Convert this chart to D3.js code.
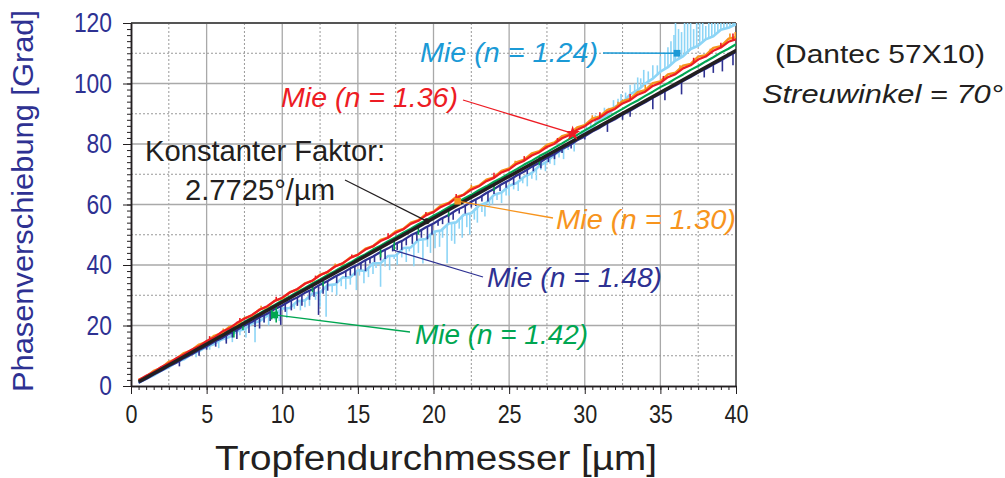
<!DOCTYPE html>
<html>
<head>
<meta charset="utf-8">
<script src="https://cdn.jsdelivr.net/npm/d3@7"></script>
<style>
  body { margin: 0; background: #fff; }
  text { font-family: "Liberation Sans", Arial, sans-serif; }
</style>
</head>
<body>
<svg id="chart"></svg>
<script>
// sampling grid of the Mie curves (droplet diameter, µm)
const diam = d3.range(1, 81).map(i => i * 0.5);

// constant factor 2.7725°/µm
const factorX = [0.6, 40];
const factorY = [1.66, 110.9];

// Mie (n = 1.24)
const mie124 = [1.0, 2.4, 3.5, 5.1, 6.2, 7.9, 8.8, 10.6, 11.5, 13.0, 13.9, 15.4, 16.2, 18.1, 18.8, 20.7, 21.4, 23.2, 23.9, 25.6,
  25.8, 28.0, 28.3, 30.6, 30.9, 33.3, 33.6, 35.9, 35.9, 38.3, 38.0, 40.6, 40.6, 43.0, 43.1, 45.6, 45.8, 48.3, 48.6, 51.0,
  51.4, 53.7, 54.1, 56.6, 57.1, 59.6, 60.6, 63.2, 64.0, 66.2, 67.1, 69.2, 70.4, 72.8, 74.2, 76.5, 78.0, 79.9, 81.6, 83.9,
  85.4, 88.3, 89.5, 92.3, 93.6, 96.4, 97.8, 100.0, 101.6, 103.9, 105.4, 107.6, 109.0, 111.4, 112.5, 114.6, 115.6, 117.8, 118.4, 119.6];
const mie124SpikeX = [4.3, 5.8, 6.7, 7.6, 8.2, 9.1, 9.8, 10.3, 11.2, 11.8, 12.5, 12.9, 13.6, 14.2, 14.9, 15.4, 16.0, 16.5, 17.1, 17.6,
  18.2, 18.7, 19.3, 19.8, 20.4, 20.9, 21.4, 21.9, 22.4, 22.9, 23.4, 23.9, 24.5, 25.0, 25.6, 26.2, 26.8, 27.4, 28.0, 28.6, 29.3,
  29.8, 30.4, 31.0, 31.6, 32.2, 32.7, 33.3, 33.7, 34.2, 34.8, 35.3, 35.7, 36.0, 36.4, 36.8, 37.2, 37.6, 38.0, 38.4, 38.8, 39.2, 39.6, 39.9,
  5.2, 6.3, 7.2, 8.8, 9.5, 10.8, 11.5, 12.2, 13.3, 13.9, 14.5, 15.1, 15.7, 16.2, 16.8, 17.4, 17.9, 18.4, 19.0, 19.6,
  20.1, 20.6, 21.2, 21.7, 22.2, 22.7, 23.2, 23.7, 24.2, 24.8, 25.3, 25.9, 26.5, 27.1, 27.7, 28.3, 28.9,
  30.1, 30.7, 31.3, 31.9, 32.4, 33.0, 33.5, 33.9, 34.5, 35.0, 35.5, 35.9, 36.2, 36.6, 37.0, 37.4, 37.8, 38.2, 38.6, 39.0, 39.4, 39.8];
const mie124SpikeY = [9.5, 12.5, 14.5, 16.0, 14.5, 20.0, 21.5, 22.5, 25.0, 26.5, 26.2, 22.9, 30.0, 32.0, 31.7, 34.0, 37.0, 32.8, 38.3, 40.0,
  41.0, 39.6, 40.5, 44.0, 46.0, 40.6, 47.0, 49.0, 50.0, 54.0, 56.0, 60.0, 60.5, 63.0, 64.5, 66.0, 68.0, 71.0, 73.0, 75.0, 77.5,
  84.5, 87.0, 90.0, 92.0, 95.0, 97.0, 100.0, 101.7, 104.0, 106.0, 110.0, 114.0, 122, 117.0, 122, 118.0, 122, 119.0, 122, 122, 122, 122, 122,
  12.0, 14.8, 16.8, 21.0, 22.0, 25.5, 26.0, 28.5, 31.0, 33.0, 33.5, 36.5, 36.0, 39.0, 39.5, 42.0, 42.5, 44.5, 44.0, 46.0,
  45.5, 49.0, 48.0, 52.0, 52.5, 55.0, 57.5, 59.5, 61.5, 63.0, 65.0, 67.0, 68.5, 71.5, 73.5, 75.5, 78.0,
  87.0, 89.5, 92.0, 94.5, 96.5, 99.5, 102.0, 104.5, 106.0, 109.0, 112.0, 116.0, 118.0, 122, 120.0, 122, 122, 122, 122, 122, 122, 122];

// Mie (n = 1.48)
const mie148 = [1.1, 2.3, 3.8, 5.0, 6.5, 7.7, 9.2, 10.4, 11.9, 13.1, 14.6, 15.8, 17.3, 18.5, 20.0, 21.2, 22.7, 23.9, 25.4, 26.6,
  28.1, 29.3, 30.8, 32.0, 33.5, 34.7, 36.2, 37.4, 38.9, 40.1, 41.6, 42.8, 44.3, 45.5, 47.0, 48.2, 49.8, 51.0, 52.5, 53.7,
  55.3, 56.5, 58.1, 59.3, 60.9, 62.2, 63.8, 65.1, 66.7, 68.0, 69.6, 70.9, 72.5, 73.8, 75.4, 76.7, 78.3, 79.6, 81.2, 82.5,
  84.1, 85.4, 86.9, 88.2, 89.7, 91.0, 92.5, 93.8, 95.3, 96.6, 98.0, 99.3, 100.8, 102.1, 103.6, 104.9, 106.3, 107.6, 109.1, 110.4];
const mie148SpikeX = [3.2, 4.5, 5.6, 6.3, 7.0, 7.8, 8.5, 9.2, 9.9, 10.6, 11.3, 11.8, 12.4, 13.0, 13.6, 14.2, 14.8, 15.5, 16.1, 16.8,
  17.3, 17.9, 18.6, 19.2, 19.9, 20.6, 21.3, 22.1, 22.8, 23.6, 24.4, 25.3, 26.2, 27.1, 28.0, 29.1, 31.5, 33.0, 34.5, 36.4, 37.9, 39.1, 39.8,
  5.0, 6.7, 8.2, 8.8, 10.2, 11.0, 12.1, 12.7, 14.5, 15.2, 15.8, 16.5, 17.6, 18.2, 18.9, 19.6, 20.3, 21.0, 21.7, 22.5,
  23.2, 24.0, 24.8, 25.7, 26.6, 27.6, 28.5, 30.0, 32.5, 35.3, 38.5];
const mie148SpikeY = [6.5, 10.0, 13.0, 14.0, 15.5, 17.5, 19.0, 21.5, 20.2, 25.0, 26.5, 28.5, 23.5, 31.5, 34.0, 36.0, 36.5, 38.0, 41.0, 42.0,
  44.5, 45.0, 47.0, 49.0, 50.0, 53.5, 55.0, 57.0, 59.5, 61.0, 64.5, 66.5, 70.0, 72.0, 75.0, 78.5, 84.0, 89.0, 91.5, 96.4, 102.0, 104.0, 106.0,
  12.0, 16.0, 19.5, 21.0, 24.5, 26.5, 29.5, 30.5, 36.5, 38.5, 40.5, 41.5, 45.0, 46.5, 48.0, 48.5, 53.0, 54.0, 57.0, 59.0,
  61.0, 63.5, 65.5, 68.5, 71.0, 74.0, 77.0, 81.5, 88.0, 94.5, 103.5];

// Mie (n = 1.42)
const mie142 = [1.6, 3.2, 4.5, 6.0, 7.3, 8.8, 10.1, 11.6, 12.9, 14.4, 15.7, 17.1, 18.5, 19.9, 21.2, 22.7, 24.0, 25.5, 26.8, 28.3,
  29.6, 31.1, 32.4, 33.9, 35.2, 36.7, 38.0, 39.5, 40.8, 42.3, 43.6, 45.1, 46.4, 47.9, 49.2, 50.7, 52.0, 53.5, 54.8, 56.3,
  57.6, 59.1, 60.4, 61.9, 63.2, 64.7, 66.0, 67.5, 68.8, 70.3, 71.7, 73.2, 74.5, 76.0, 77.3, 78.8, 80.2, 81.7, 83.0, 84.5,
  85.9, 87.4, 88.7, 90.2, 91.6, 93.1, 94.4, 95.9, 97.3, 98.8, 100.1, 101.6, 103.0, 104.5, 105.8, 107.3, 108.7, 110.2, 111.5, 113.0];
const mie142SpikeX = [6.8, 7.4, 9.3, 9.6, 12.0, 12.7, 16.5, 17.4, 19.0, 21.0, 24.0, 27.0];
const mie142SpikeY = [16.0, 18.5, 22.0, 21.0, 31.0, 33.0, 42.5, 45.0, 50.0, 56.0, 64.5, 73.0];

// Mie (n = 1.30)
const mie130 = [2.0, 3.1, 5.0, 6.0, 8.0, 9.0, 10.9, 11.8, 13.7, 14.6, 16.6, 17.5, 19.5, 20.4, 22.4, 23.3, 25.3, 26.1, 28.2, 29.0,
  31.0, 31.9, 33.9, 34.8, 36.8, 37.6, 39.7, 40.5, 42.5, 43.4, 45.4, 46.2, 48.3, 49.1, 51.1, 51.9, 54.0, 54.8, 56.8, 57.6,
  59.7, 60.5, 62.5, 63.3, 65.4, 66.2, 68.2, 69.0, 71.1, 71.9, 74.0, 74.8, 76.9, 77.6, 79.7, 80.5, 82.6, 83.3, 85.5, 86.2,
  88.4, 89.1, 91.3, 92.0, 94.2, 94.9, 97.1, 97.8, 100.1, 100.7, 103.0, 103.6, 105.9, 106.5, 108.9, 109.4, 111.8, 112.3, 114.8, 115.3];
const mie130SpikeX = [6.1, 8.6, 13.5, 18.3, 22.5, 25.4, 30.5, 32.2, 34.0, 36.3, 38.3, 39.6, 39.95];
const mie130SpikeY = [19.0, 26.5, 40.5, 53.5, 66.5, 74.5, 89.5, 94.0, 99.5, 106.0, 111.5, 116.5, 117.0];

// Mie (n = 1.36)
const mie136 = [1.9, 3.4, 4.6, 6.3, 7.5, 9.2, 10.4, 12.0, 13.1, 14.9, 16.0, 17.9, 19.0, 20.9, 22.2, 23.5, 25.2, 26.4, 28.1, 29.2,
  30.9, 32.1, 33.8, 34.9, 36.6, 37.8, 39.5, 40.6, 42.3, 43.4, 45.1, 46.2, 47.9, 49.0, 50.7, 51.8, 53.6, 54.6, 56.4, 57.5,
  59.2, 60.3, 62.1, 63.2, 64.9, 66.0, 67.7, 68.8, 70.6, 71.6, 73.4, 74.5, 76.2, 77.3, 79.0, 80.1, 81.9, 83.0, 84.7, 85.9,
  87.6, 88.7, 90.5, 91.6, 93.4, 94.5, 96.3, 97.3, 99.2, 100.2, 102.1, 103.1, 105.0, 106.0, 107.9, 108.9, 110.8, 111.9, 113.8, 114.6];
const mie136SpikeX = [5.2, 7.2, 9.6, 12.2, 14.6, 17.0, 19.5, 21.5, 24.0, 26.0, 28.2, 29.2, 31.0, 33.0, 35.2, 37.2, 39.0, 39.8];
const mie136SpikeY = [16.5, 22.5, 29.5, 36.5, 43.5, 50.5, 57.5, 63.5, 70.5, 76.0, 82.0, 84.5, 90.5, 96.5, 102.5, 108.5, 113.5, 116.5];

// annotated points (marker on each curve)
const markX = [36.1, 29.2, 21.6, 19.55, 17.3, 9.5];
const markY = [110, 83.5, 61.1, 54.5, 45, 23.5];

// ticks
const xTicks = [0, 5, 10, 15, 20, 25, 30, 35, 40];
const yTicks = [0, 20, 40, 60, 80, 100, 120];

const W = 1005, H = 478;
const plot = { left: 131, right: 736, top: 23, bottom: 386 };

const svg = d3.select('#chart').attr('width', W).attr('height', H);

const x = d3.scaleLinear().domain([0, 40]).range([plot.left, plot.right]);
const y = d3.scaleLinear().domain([0, 120]).range([plot.bottom, plot.top]);

svg.append('defs').append('clipPath').attr('id', 'clip')
  .append('rect')
  .attr('x', plot.left).attr('y', plot.top)
  .attr('width', plot.right - plot.left).attr('height', plot.bottom - plot.top);

// grid
const grid = svg.append('g');
grid.selectAll('.vmaj').data(xTicks.slice(1, -1)).enter().append('line')
  .attr('x1', d => x(d)).attr('x2', d => x(d)).attr('y1', plot.top).attr('y2', plot.bottom)
  .attr('stroke', '#a9a9a9').attr('stroke-width', 1.3);
grid.selectAll('.vmin').data(xTicks.slice(0, -1).map(d => d + 2.5)).enter().append('line')
  .attr('x1', d => x(d)).attr('x2', d => x(d)).attr('y1', plot.top).attr('y2', plot.bottom)
  .attr('stroke', '#999').attr('stroke-width', 1).attr('stroke-dasharray', '2,2');
grid.selectAll('.hmaj').data(yTicks.slice(1, -1)).enter().append('line')
  .attr('y1', d => y(d)).attr('y2', d => y(d)).attr('x1', plot.left).attr('x2', plot.right)
  .attr('stroke', '#a9a9a9').attr('stroke-width', 1.3);
grid.selectAll('.hmin').data(yTicks.slice(0, -1).map(d => d + 10)).enter().append('line')
  .attr('y1', d => y(d)).attr('y2', d => y(d)).attr('x1', plot.left).attr('x2', plot.right)
  .attr('stroke', '#999').attr('stroke-width', 1).attr('stroke-dasharray', '2,2');

// frame top / right
svg.append('line').attr('x1', plot.left).attr('x2', plot.right).attr('y1', plot.top).attr('y2', plot.top)
  .attr('stroke', '#555').attr('stroke-width', 2);
svg.append('line').attr('x1', plot.right).attr('x2', plot.right).attr('y1', plot.top).attr('y2', plot.bottom)
  .attr('stroke', '#666').attr('stroke-width', 2);

// curves
const curves = svg.append('g').attr('clip-path', 'url(#clip)');
const line = d3.line().x((d, i) => x(diam[i])).y(d => y(d));

function levelAt(ys, sx) {
  const t = sx / 0.5 - 1;
  const i = Math.max(0, Math.min(ys.length - 2, Math.floor(t)));
  const f = Math.max(0, Math.min(1, t - i));
  return ys[i] * (1 - f) + ys[i + 1] * f;
}

function drawSeries(ys, sx, sy, color, w) {
  curves.append('path').datum(ys)
    .attr('d', line)
    .attr('fill', 'none').attr('stroke', color).attr('stroke-width', w).attr('stroke-linejoin', 'round');
  curves.selectAll(null).data(sx).enter().append('line')
    .attr('x1', d => x(d)).attr('x2', d => x(d))
    .attr('y1', d => y(levelAt(ys, d)))
    .attr('y2', (d, i) => y(sy[i]))
    .attr('stroke', color).attr('stroke-width', 1.6);
}

drawSeries(mie124, mie124SpikeX, mie124SpikeY, '#8dd5f6', 2.6);
drawSeries(mie148, mie148SpikeX, mie148SpikeY, '#2e3192', 2.2);
drawSeries(mie142, mie142SpikeX, mie142SpikeY, '#00a651', 2.2);
drawSeries(mie130, mie130SpikeX, mie130SpikeY, '#f7941d', 2.4);
drawSeries(mie136, mie136SpikeX, mie136SpikeY, '#ed1c24', 2.2);

curves.append('path').datum(factorX.map((d, i) => [d, factorY[i]]))
  .attr('d', d3.line().x(d => x(d[0])).y(d => y(d[1])))
  .attr('stroke', '#231f20').attr('stroke-width', 3.5).attr('stroke-linecap', 'round');

// axes
const xAxis = svg.append('g').attr('transform', `translate(0,${plot.bottom})`);
xAxis.call(d3.axisBottom(x).tickValues(d3.range(0, 40.01, 0.5)).tickSize(4).tickFormat('').tickSizeOuter(0));
xAxis.append('g').call(d3.axisBottom(x).tickValues(xTicks).tickSize(8).tickPadding(11).tickSizeOuter(0));
xAxis.selectAll('path.domain').attr('stroke', '#231f20').attr('stroke-width', 1.5);
xAxis.selectAll('line').attr('stroke', '#231f20');
xAxis.selectAll('text').attr('font-size', 26).attr('fill', '#231f20')
  .attr('textLength', function () { return this.textContent.length * 12; })
  .attr('lengthAdjust', 'spacingAndGlyphs');

const yAxis = svg.append('g').attr('transform', `translate(${plot.left},0)`);
yAxis.call(d3.axisLeft(y).tickValues(d3.range(0, 120.01, 2)).tickSize(4).tickFormat('').tickSizeOuter(0));
yAxis.append('g').call(d3.axisLeft(y).tickValues(yTicks).tickSize(8).tickPadding(11).tickSizeOuter(0));
yAxis.selectAll('path.domain').attr('stroke', '#231f20').attr('stroke-width', 1.5);
yAxis.selectAll('line').attr('stroke', '#231f20');
yAxis.selectAll('text').attr('font-size', 27).attr('fill', '#2e3192')
  .attr('textLength', function () { return this.textContent.length * 12.7; })
  .attr('lengthAdjust', 'spacingAndGlyphs');

// axis titles
svg.append('text')
  .attr('x', 436).attr('y', 470).attr('text-anchor', 'middle')
  .attr('font-size', 35).attr('fill', '#231f20')
  .attr('textLength', 442).attr('lengthAdjust', 'spacingAndGlyphs')
  .text('Tropfendurchmesser [µm]');

svg.append('text')
  .attr('transform', 'translate(33,201) rotate(-90)')
  .attr('text-anchor', 'middle')
  .attr('font-size', 29).attr('fill', '#2e3192')
  .attr('textLength', 382).attr('lengthAdjust', 'spacingAndGlyphs')
  .text('Phasenverschiebung [Grad]');

// side note
svg.append('text').attr('x', 775).attr('y', 63).attr('font-size', 26).attr('fill', '#231f20')
  .attr('textLength', 210).attr('lengthAdjust', 'spacingAndGlyphs').text('(Dantec 57X10)');
svg.append('text').attr('x', 762).attr('y', 103).attr('font-size', 26).attr('font-style', 'italic').attr('fill', '#231f20')
  .attr('textLength', 241).attr('lengthAdjust', 'spacingAndGlyphs').text('Streuwinkel = 70°');

// annotations: label text, text box, line start, marker index
const notes = [
  { t: 'Mie (n = 1.24)', c: '#1b9ad6', tx: 420, ty: 62, len: 178, lx: 603, ly: 53, m: 0, sym: d3.symbolSquare },
  { t: 'Mie (n = 1.36)', c: '#ed1c24', tx: 281, ty: 107, len: 177, lx: 463, ly: 100, m: 1, sym: d3.symbolStar },
  { t: 'Mie (n = 1.30)', c: '#f7941d', tx: 556, ty: 229, len: 180, lx: 553, ly: 218, m: 2, sym: d3.symbolSquare },
  { t: 'Mie (n = 1.48)', c: '#2e3192', tx: 487, ty: 287, len: 175, lx: 483, ly: 277, m: 4, sym: null },
  { t: 'Mie (n = 1.42)', c: '#00a651', tx: 415, ty: 344, len: 173, lx: 410, ly: 332, m: 5, sym: d3.symbolSquare }
];

const ann = svg.append('g');
notes.forEach(n => {
  ann.append('line')
    .attr('x1', n.lx).attr('y1', n.ly)
    .attr('x2', x(markX[n.m])).attr('y2', y(markY[n.m]))
    .attr('stroke', n.c).attr('stroke-width', 1.3);
  if (n.sym) {
    ann.append('path')
      .attr('d', d3.symbol().type(n.sym).size(n.sym === d3.symbolStar ? 70 : 45))
      .attr('transform', `translate(${x(markX[n.m])},${y(markY[n.m])})`)
      .attr('fill', n.c);
  }
  ann.append('text')
    .attr('x', n.tx).attr('y', n.ty)
    .attr('font-size', 28).attr('font-style', 'italic').attr('fill', n.c)
    .attr('textLength', n.len).attr('lengthAdjust', 'spacingAndGlyphs')
    .text(n.t);
});

// constant factor note
ann.append('line')
  .attr('x1', 345).attr('y1', 180)
  .attr('x2', x(markX[3])).attr('y2', y(markY[3]))
  .attr('stroke', '#231f20').attr('stroke-width', 1.2);
ann.append('circle').attr('cx', x(markX[3])).attr('cy', y(markY[3])).attr('r', 3).attr('fill', '#231f20');
ann.append('text').attr('x', 145).attr('y', 161).attr('font-size', 30).attr('fill', '#231f20')
  .attr('textLength', 240).attr('lengthAdjust', 'spacingAndGlyphs').text('Konstanter Faktor:');
ann.append('text').attr('x', 185).attr('y', 200).attr('font-size', 30).attr('fill', '#231f20')
  .attr('textLength', 150).attr('lengthAdjust', 'spacingAndGlyphs').text('2.7725°/µm');
</script>
</body>
</html>
